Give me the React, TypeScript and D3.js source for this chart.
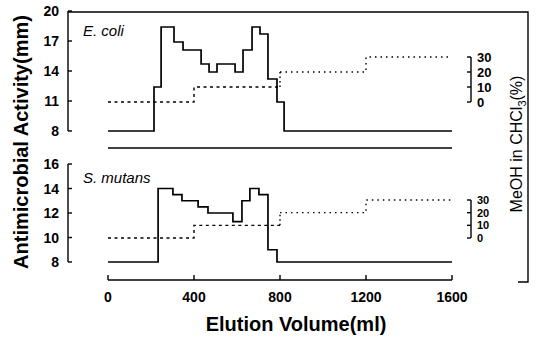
import React from "react";
import * as d3 from "d3";

const volumeTicks = [0, 400, 800, 1200, 1600];
const ecoliTicks = [8, 11, 14, 17, 20];
const smutansTicks = [8, 10, 12, 14, 16];
const meohTicks = [0, 10, 20, 30];

const ecoliVol = [0, 214, 247, 307, 349, 433, 470, 507, 591, 628, 670, 707, 744, 786, 819, 1600];
const ecoliAct = [8, 12.4, 18.4, 16.9, 16.1, 14.7, 13.9, 14.7, 13.9, 16.1, 18.4, 17.7, 13.2, 10.9, 8, 8];

const smutansVol = [0, 233, 302, 344, 419, 465, 581, 623, 660, 702, 744, 786, 1600];
const smutansAct = [8, 14, 13.5, 13, 12.5, 12, 11.3, 13, 14, 13.5, 9, 8, 8];

const meohVol = [0, 400, 800, 1200, 1600];
const meohPct = [0, 10, 20, 30, 30];

const FONT = "'Liberation Sans', Arial, sans-serif";

export default function App() {
  const x = d3.scaleLinear().domain([0, 1600]).range([108, 452]);
  const yTop = d3.scaleLinear().domain([8, 20]).range([131, 11]);
  const yBot = d3.scaleLinear().domain([8, 16]).range([262, 164]);
  const mTop = d3.scaleLinear().domain([0, 30]).range([102, 57]);
  const mBot = d3.scaleLinear().domain([0, 30]).range([238, 200]);

  const stepLine = (ys: d3.ScaleLinear<number, number>) =>
    d3
      .line<[number, number]>()
      .x((d) => x(d[0]))
      .y((d) => ys(d[1]))
      .curve(d3.curveStepAfter);

  const ecoli = ecoliVol.map((v, i) => [v, ecoliAct[i]] as [number, number]);
  const smutans = smutansVol.map((v, i) => [v, smutansAct[i]] as [number, number]);
  const meoh = meohVol.map((v, i) => [v, meohPct[i]] as [number, number]);
  const meohA = meoh.slice(0, 3).map((d, i) => (i === 2 ? ([d[0], meoh[1][1]] as [number, number]) : d));
  const meohB = meoh.slice(1);

  const axisStroke = { stroke: "#000", strokeWidth: 1.4, fill: "none" };

  const leftAxis = (ys: d3.ScaleLinear<number, number>, ticks: number[]) => {
    const [lo, hi] = ys.domain();
    return (
      <g>
        <line x1={68} x2={68} y1={ys(hi)} y2={ys(lo)} {...axisStroke} />
        {ticks.map((t) => (
          <g key={t}>
            <line x1={68} x2={72} y1={ys(t)} y2={ys(t)} {...axisStroke} />
            <text x={59} y={ys(t) + 5} textAnchor="end" fontSize={14} fontWeight="bold" fontFamily={FONT}>
              {t}
            </text>
          </g>
        ))}
      </g>
    );
  };

  const rightAxis = (ms: d3.ScaleLinear<number, number>, fs: number) => (
    <g>
      <line x1={471} x2={471} y1={ms(30)} y2={ms(0)} {...axisStroke} />
      {meohTicks.map((t) => (
        <g key={t}>
          <line x1={467} x2={471} y1={ms(t)} y2={ms(t)} {...axisStroke} />
          <text x={477} y={ms(t) + fs * 0.36} fontSize={fs} fontWeight="bold" fontFamily={FONT}>
            {t}
          </text>
        </g>
      ))}
    </g>
  );

  const meohPaths = (ms: d3.ScaleLinear<number, number>) => (
    <g>
      <path d={stepLine(ms)(meohA) || ""} stroke="#000" strokeWidth={1.4} fill="none" strokeDasharray="3,3.5" />
      <path d={stepLine(ms)(meohB.slice(1)) || ""} stroke="#000" strokeWidth={1.4} fill="none" strokeDasharray="1.5,4" />
      <path
        d={`M${x(800)},${ms(10)}V${ms(20)}`}
        stroke="#000"
        strokeWidth={1.4}
        fill="none"
        strokeDasharray="1.5,3"
      />
    </g>
  );

  return (
    <svg width={537} height={338} style={{ position: "absolute", left: 0, top: 0, background: "#fff" }}>
      <rect x={0} y={0} width={537} height={338} fill="#fff" />
      {/* frame */}
      <path d="M68,12H528V282H518" {...axisStroke} />

      {/* top panel */}
      {leftAxis(yTop, ecoliTicks)}
      <line x1={x(0)} x2={x(1600)} y1={148} y2={148} stroke="#000" strokeWidth={1.5} />
      {meohPaths(mTop)}
      <path d={stepLine(yTop)(ecoli) || ""} stroke="#000" strokeWidth={1.7} fill="none" />
      {rightAxis(mTop, 13)}
      <text x={83} y={36} fontSize={15} fontStyle="italic" fontFamily={FONT}>
        E. coli
      </text>

      {/* bottom panel */}
      {leftAxis(yBot, smutansTicks)}
      {meohPaths(mBot)}
      <path d={stepLine(yBot)(smutans) || ""} stroke="#000" strokeWidth={1.7} fill="none" />
      {rightAxis(mBot, 11)}
      <text x={83} y={183} fontSize={15} fontStyle="italic" fontFamily={FONT}>
        S. mutans
      </text>

      {/* bottom x axis */}
      <line x1={x(0)} x2={x(1600)} y1={280} y2={280} {...axisStroke} />
      {volumeTicks.map((t) => (
        <g key={t}>
          <line x1={x(t)} x2={x(t)} y1={280} y2={275} {...axisStroke} />
          <text x={x(t)} y={302} textAnchor="middle" fontSize={14} fontWeight="bold" fontFamily={FONT}>
            {t}
          </text>
        </g>
      ))}

      <text x={296} y={331} textAnchor="middle" fontSize={20} fontWeight="bold" fontFamily={FONT}>
        Elution Volume(ml)
      </text>
      <text
        transform="translate(28,142) rotate(-90)"
        textAnchor="middle"
        fontSize={20}
        fontWeight="bold"
        fontFamily={FONT}
      >
        Antimicrobial Activity(mm)
      </text>
      <text transform="translate(522,144) rotate(-90)" textAnchor="middle" fontSize={16} fontFamily={FONT}>
        MeOH in CHCl<tspan fontSize={11} dy={4}>3</tspan>
        <tspan dy={-4}>(%)</tspan>
      </text>
    </svg>
  );
}
